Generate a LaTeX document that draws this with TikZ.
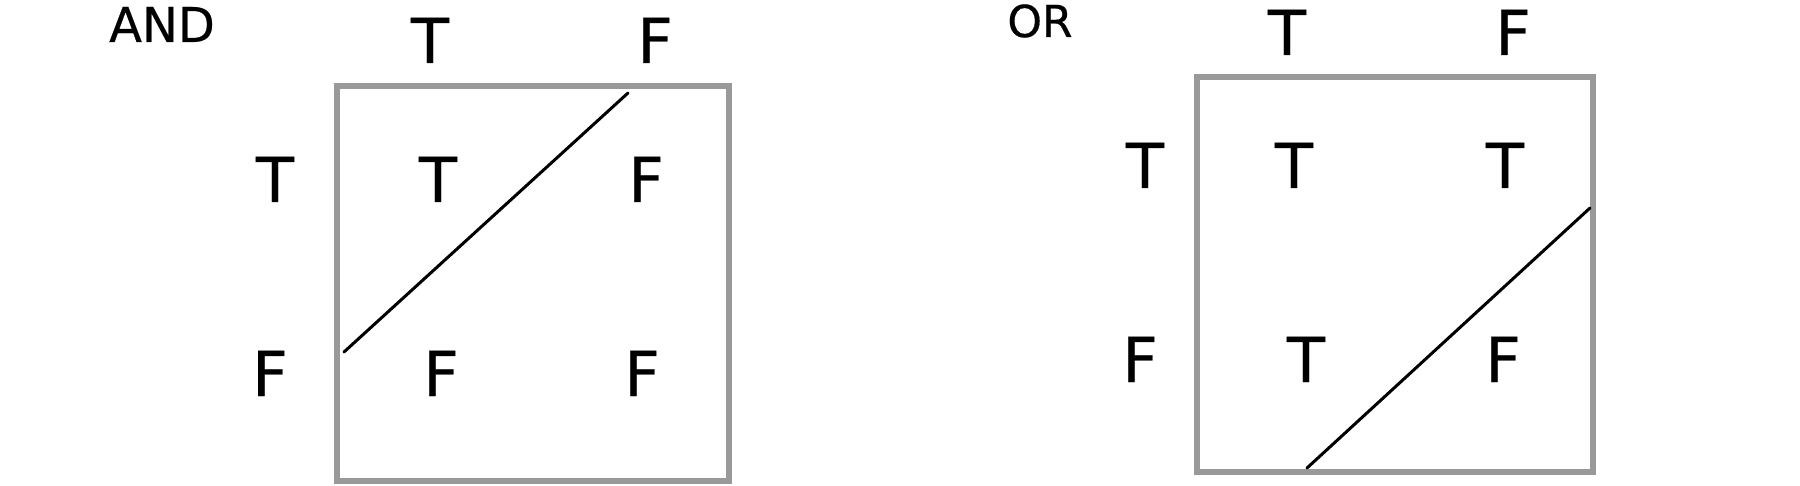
\documentclass[tikz,border=0pt]{standalone}
\usepackage{fontspec}
\setmainfont{DejaVu Sans}
\newfontfamily\handfont[FakeBold=0.5]{DejaVu Sans}
\begin{document}
\begin{tikzpicture}[x=0.5pt,y=-0.5pt]
\tikzset{
  lbl/.style={font=\handfont\fontsize{31}{31}\selectfont, anchor=base, inner sep=0pt, text=black},
  ttl/.style={font=\handfont\fontsize{24}{24}\selectfont, anchor=base, inner sep=0pt, text=black},
  boxline/.style={draw=black!40, line width=2.8pt},
  diag/.style={draw=black, line width=1.5pt, line cap=round}
}
\useasboundingbox (0,0) rectangle (1800,486);
\fill[white] (0,0) rectangle (1800,486);
% ---------- AND ----------
\node[ttl] (andt) at (162,42) {AND};
\node[lbl] (a-cT) at (430,63) {T};
\node[lbl] (a-cF) at (655,63) {F};
\node[lbl] (a-rT) at (275,202) {T};
\node[lbl] (a-TT) at (438,202) {T};
\node[lbl] (a-TF) at (646,202) {F};
\node[lbl] (a-rF) at (270,396) {F};
\node[lbl] (a-FT) at (441,396) {F};
\node[lbl] (a-FF) at (642,396) {F};
\draw[boxline] (337,86) rectangle (729,481);
\coordinate (a-d1) at (628,93);
\coordinate (a-d2) at (344,352);
\draw[diag] (a-d1) -- (a-d2);
% ---------- OR ----------
\node[ttl, font=\handfont\fontsize{22}{22}\selectfont] (ort) at (1040,37) {OR};
\node[lbl] (o-cT) at (1287,55) {T};
\node[lbl] (o-cF) at (1513,55) {F};
\node[lbl] (o-rT) at (1145,188) {T};
\node[lbl] (o-TT) at (1294,188) {T};
\node[lbl] (o-TF) at (1505,188) {T};
\node[lbl] (o-rF) at (1140,382) {F};
\node[lbl] (o-FT) at (1306,382) {T};
\node[lbl] (o-FF) at (1503,382) {F};
\draw[boxline] (1197,77) rectangle (1593,472);
\coordinate (o-d1) at (1590,208);
\coordinate (o-d2) at (1307,468);
\draw[diag] (o-d1) -- (o-d2);
\end{tikzpicture}
\end{document}
